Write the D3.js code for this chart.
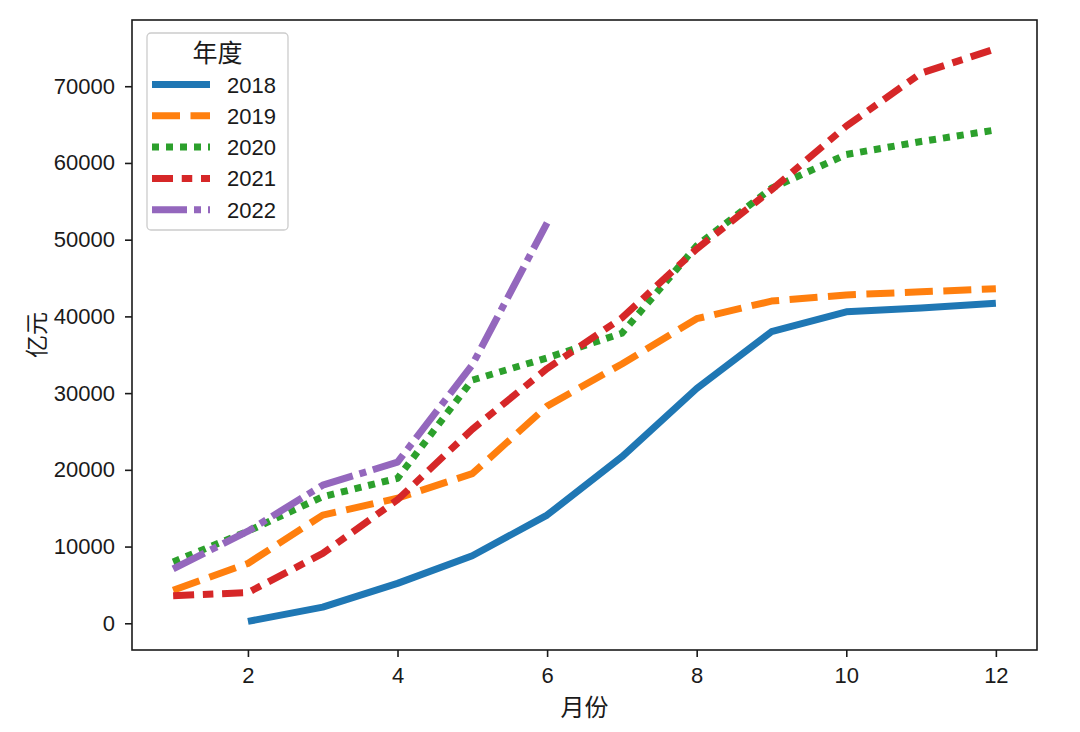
<!DOCTYPE html>
<meta charset="utf-8">
<style>
body { margin: 0; background: #fff; }
text { font-family: "Liberation Sans", "Noto Sans CJK SC", sans-serif; fill: #1a1a1a; }
.cjk { font-family: "Noto Sans CJK SC", sans-serif; }
.axis path, .axis line { stroke: #1a1a1a; stroke-width: 1.6; }
</style>
<script src="https://cdn.jsdelivr.net/npm/d3@7"></script>
<body>
<div id="graph"></div>
<script>
// 月份 / 年度
var months = [1, 2, 3, 4, 5, 6, 7, 8, 9, 10, 11, 12];
var years = ["2018", "2019", "2020", "2021", "2022"];
var v2018 = [null, 250, 2100, 5200, 8800, 14100, 21700, 30600, 38000, 40600, 41100, 41700];
var v2019 = [4300, 7800, 14100, 16300, 19500, 28300, 33800, 39700, 42000, 42800, 43200, 43600];
var v2020 = [8000, 12000, 16500, 18900, 31700, 34600, 37800, 49200, 56700, 61100, 62800, 64300];
var v2021 = [3600, 4000, 9100, 16100, 25300, 33200, 39800, 48800, 56500, 64800, 71700, 74900];
var v2022 = [7100, 12000, 18000, 21000, 33700, 52200];
var xTicks = [2, 4, 6, 8, 10, 12];
var yTicks = [0, 10000, 20000, 30000, 40000, 50000, 60000, 70000];

var colors = ["#1f77b4", "#ff7f0e", "#2ca02c", "#d62728", "#9467bd"];
var lw = 7;
var dashes = ["", [4, 1.5], [1, 1], [3, 1.25, 1.5, 1.25], [5, 1, 1, 1]]
  .map(d => d === "" ? null : d.map(v => v * lw).join(","));

var series = [v2018, v2019, v2020, v2021, v2022].map((vals, i) => ({
  year: years[i],
  points: vals.map((v, j) => ({m: months[j], v: v})).filter(p => p.v != null)
}));

var W = 1080, H = 732;
var pl = 132, pr = 1037, pt = 20, pb = 650;

var svg = d3.select("#graph").append("svg")
  .attr("width", W)
  .attr("height", H);

// matplotlib style 5% margins
var xs = [1, 12];
var allV = series.flatMap(s => s.points.map(p => p.v));
var yMin = d3.min(allV), yMax = d3.max(allV);
var x = d3.scaleLinear()
  .domain([xs[0] - (xs[1] - xs[0]) * 0.05, xs[1] + (xs[1] - xs[0]) * 0.05])
  .range([pl, pr]);
var y = d3.scaleLinear()
  .domain([yMin - (yMax - yMin) * 0.05, yMax + (yMax - yMin) * 0.05])
  .range([pb, pt]);

var line = d3.line()
  .x(d => x(d.m))
  .y(d => y(d.v));

svg.selectAll(".series")
  .data(series)
  .enter().append("path")
  .attr("class", "series")
  .attr("d", d => line(d.points))
  .attr("fill", "none")
  .attr("stroke", (d, i) => colors[i])
  .attr("stroke-width", lw)
  .attr("stroke-linejoin", "round")
  .attr("stroke-dasharray", (d, i) => dashes[i]);

svg.append("g")
  .attr("class", "axis")
  .attr("transform", "translate(0," + pb + ")")
  .call(d3.axisBottom(x).tickValues(xTicks).tickSize(7).tickPadding(10).tickSizeOuter(0))
  .call(g => g.select(".domain").remove())
  .call(g => g.selectAll("text").style("font-size", "22px"));

svg.append("g")
  .attr("class", "axis")
  .attr("transform", "translate(" + pl + ",0)")
  .call(d3.axisLeft(y).tickValues(yTicks).tickSize(7).tickPadding(10).tickFormat(d3.format("d")).tickSizeOuter(0))
  .call(g => g.select(".domain").remove())
  .call(g => g.selectAll("text").style("font-size", "22px"));

svg.append("rect")
  .attr("x", pl).attr("y", pt)
  .attr("width", pr - pl).attr("height", pb - pt)
  .attr("fill", "none")
  .attr("stroke", "#1a1a1a")
  .attr("stroke-width", 1.6);

svg.append("text")
  .attr("class", "cjk")
  .attr("x", (pl + pr) / 2)
  .attr("y", 716)
  .attr("text-anchor", "middle")
  .style("font-size", "24px")
  .text("月份");

svg.append("text")
  .attr("class", "cjk")
  .attr("transform", "translate(45," + ((pt + pb) / 2) + ") rotate(-90)")
  .attr("text-anchor", "middle")
  .style("font-size", "23px")
  .text("亿元");

// legend
var lg = svg.append("g");
lg.append("rect")
  .attr("x", 147).attr("y", 33)
  .attr("width", 141).attr("height", 197)
  .attr("rx", 4)
  .attr("fill", "white")
  .attr("fill-opacity", 0.8)
  .attr("stroke", "#cccccc")
  .attr("stroke-width", 1.3);
lg.append("text")
  .attr("class", "cjk")
  .attr("x", 217.5).attr("y", 62)
  .attr("text-anchor", "middle")
  .style("font-size", "25px")
  .text("年度");
var item = lg.selectAll(".item")
  .data(years)
  .enter().append("g")
  .attr("transform", (d, i) => "translate(0," + (84.5 + i * 31.3) + ")");
item.append("line")
  .attr("x1", 152).attr("x2", 210)
  .attr("stroke", (d, i) => colors[i])
  .attr("stroke-width", lw)
  .attr("stroke-dasharray", (d, i) => dashes[i]);
item.append("text")
  .attr("x", 227)
  .attr("y", 8)
  .style("font-size", "22px")
  .text(d => d);
</script>
</body>
</html>
